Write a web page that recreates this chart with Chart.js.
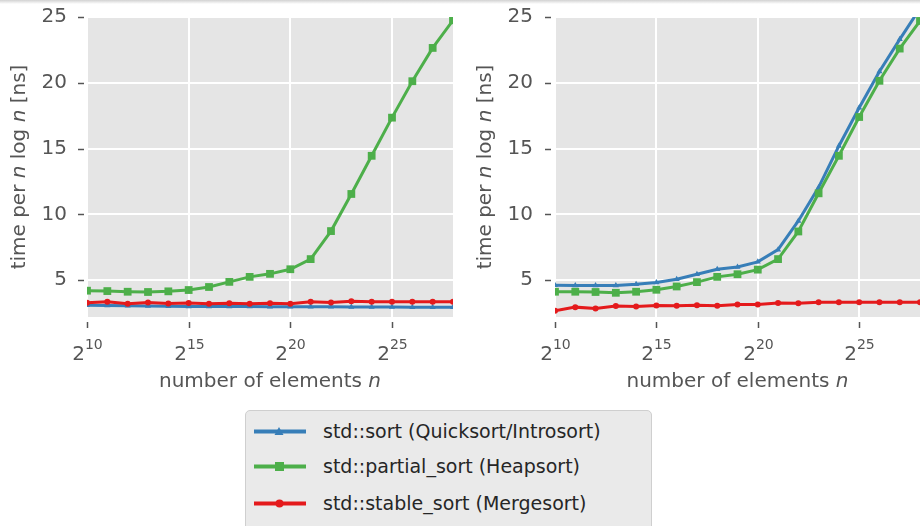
<!DOCTYPE html>
<html>
<head>
<meta charset="utf-8">
<script src="https://cdn.jsdelivr.net/npm/chart.js@4.4.1/dist/chart.umd.min.js"></script>
<style>
  body { margin: 0; background: #fff; }
  #wrap { position: relative; width: 920px; height: 526px; overflow: hidden; background: #fff; font-family: "DejaVu Sans", sans-serif; }
  #wrap:before { content: ""; position: absolute; left: 0; top: 0; width: 100%; height: 4px; background: linear-gradient(#d2d2d2, #fff); z-index: 2; }
  canvas { position: absolute; top: 0; }
  #legend { position: absolute; left: 245px; top: 410px; width: 405px; height: 140px; background: #eaeaea; border: 1px solid #cfcfcf; border-radius: 5px; }
  .row { position: absolute; left: 7px; height: 24px; display: flex; align-items: center; font-size: 19px; color: #262626; white-space: nowrap; }
  .row svg { margin-right: 16px; }
</style>
</head>
<body>
<div id="wrap">
  <canvas id="left" width="460" height="400" style="left:0"></canvas>
  <canvas id="right" width="460" height="400" style="left:460px"></canvas>
  <div id="legend"></div>
</div>
<script>
// exponents k of n = 2^k
const exps = [10, 11, 12, 13, 14, 15, 16, 17, 18, 19, 20, 21, 22, 23, 24, 25, 26, 27, 28];
const xTicks = [10, 15, 20, 25];
const yTicks = [5, 10, 15, 20, 25];

const seriesNames = ['std::sort (Quicksort/Introsort)', 'std::partial_sort (Heapsort)', 'std::stable_sort (Mergesort)'];

// left panel
const sortLeft    = [3.10, 3.08, 3.05, 3.03, 3.02, 3.00, 3.00, 3.00, 2.99, 2.98, 2.98, 2.97, 2.97, 2.96, 2.96, 2.96, 2.95, 2.95, 2.95];
const partialLeft = [4.20, 4.17, 4.12, 4.10, 4.15, 4.25, 4.48, 4.87, 5.25, 5.48, 5.83, 6.60, 8.73, 11.55, 14.45, 17.35, 20.12, 22.65, 24.75];
const stableLeft  = [3.28, 3.36, 3.20, 3.30, 3.22, 3.27, 3.20, 3.25, 3.20, 3.25, 3.20, 3.35, 3.30, 3.40, 3.36, 3.36, 3.35, 3.35, 3.35];

// right panel
const sortRight    = [4.62, 4.60, 4.60, 4.60, 4.68, 4.82, 5.07, 5.45, 5.83, 6.00, 6.39, 7.32, 9.50, 12.05, 15.20, 18.10, 20.86, 23.30, 25.65];
const partialRight = [4.12, 4.12, 4.10, 4.04, 4.12, 4.27, 4.52, 4.85, 5.25, 5.45, 5.80, 6.60, 8.70, 11.60, 14.45, 17.40, 20.15, 22.60, 24.70];
const stableRight  = [2.68, 2.95, 2.85, 3.03, 3.00, 3.08, 3.05, 3.10, 3.05, 3.15, 3.15, 3.26, 3.25, 3.33, 3.33, 3.33, 3.33, 3.33, 3.33];

const COLORS = { azul: '#377eb8', verde: '#4daf4a', rojo: '#e41a1c', texto: '#555555' };
const FONT = '"DejaVu Sans"';

// texto con partes en cursiva (n)
function richText(ctx, parts, size) {
    let w = 0;
    parts.forEach(p => { ctx.font = (p.i ? 'italic ' : '') + size + 'px ' + FONT; p.w = ctx.measureText(p.t).width; w += p.w; });
    let x = -w / 2;
    parts.forEach(p => { ctx.font = (p.i ? 'italic ' : '') + size + 'px ' + FONT; ctx.fillText(p.t, x, 0); x += p.w; });
}

const decor = {
    id: 'decor',
    beforeDraw(chart) {
        const { ctx, chartArea: a } = chart;
        ctx.save();
        ctx.fillStyle = '#e5e5e5';
        ctx.fillRect(a.left, a.top, a.right - a.left, a.bottom - a.top);
        ctx.restore();
    },
    afterDraw(chart, args, opts) {
        const { ctx, chartArea: a, scales: { x, y } } = chart;
        ctx.save();
        ctx.strokeStyle = COLORS.texto; ctx.fillStyle = COLORS.texto; ctx.lineWidth = 1.5;
        yTicks.forEach(v => {
            const py = Math.round(y.getPixelForValue(v)) + 0.5;
            ctx.beginPath(); ctx.moveTo(a.left - opts.gap - 6, py); ctx.lineTo(a.left - opts.gap, py); ctx.stroke();
        });
        ctx.textBaseline = 'alphabetic'; ctx.textAlign = 'left';
        xTicks.forEach(v => {
            const px = Math.round(x.getPixelForValue(v)) + 0.5;
            ctx.beginPath(); ctx.moveTo(px, a.bottom + 5); ctx.lineTo(px, a.bottom + 11); ctx.stroke();
            ctx.font = '20px ' + FONT; const wb = ctx.measureText('2').width;
            ctx.font = '14px ' + FONT; const ws = ctx.measureText(String(v)).width;
            const x0 = px - (wb + ws) / 2;
            ctx.font = '20px ' + FONT; ctx.fillText('2', x0, a.bottom + 43);
            ctx.font = '14px ' + FONT; ctx.fillText(String(v), x0 + wb, a.bottom + 32);
        });
        // titulo eje x
        ctx.save();
        ctx.translate((a.left + a.right) / 2, a.bottom + 70);
        richText(ctx, [{ t: 'number of elements ' }, { t: 'n', i: true }], 20);
        ctx.restore();
        // titulo eje y
        ctx.save();
        ctx.translate(opts.titleX, (a.top + a.bottom) / 2);
        ctx.rotate(-Math.PI / 2);
        ctx.textBaseline = 'middle';
        richText(ctx, [{ t: 'time per ' }, { t: 'n', i: true }, { t: ' log ' }, { t: 'n', i: true }, { t: ' [ns]' }], 20);
        ctx.restore();
        ctx.restore();
    }
};

function sinMargen(sc) {
    sc.paddingTop = 0; sc.paddingBottom = 0; sc.paddingLeft = 0; sc.paddingRight = 0;
}

function serie(label, data, color, style, radius, order) {
    return {
        label, data: exps.map((k, i) => ({ x: k, y: data[i] })),
        borderColor: color, backgroundColor: color, borderWidth: 3,
        pointStyle: style, pointRadius: radius, pointBorderWidth: 0, order
    };
}

function crearGrafico(id, s, g) {
    return new Chart(document.getElementById(id), {
        type: 'line',
        data: {
            datasets: [
                serie(seriesNames[0], s[0], COLORS.azul, 'triangle', 3.5, 2),
                serie(seriesNames[1], s[1], COLORS.verde, 'rect', 5.5, 1),
                serie(seriesNames[2], s[2], COLORS.rojo, 'circle', 3, 0)
            ]
        },
        options: {
            responsive: false, animation: false, events: [],
            layout: { autoPadding: false, padding: { top: 17, right: g.right, left: 0, bottom: 0 } },
            scales: {
                x: {
                    type: 'linear', min: 10, max: 28,
                    afterBuildTicks: sc => { sc.ticks = xTicks.map(v => ({ value: v })); },
                    afterFit: sc => { sc.height = 83; sinMargen(sc); },
                    ticks: { display: false },
                    grid: { color: '#ffffff', lineWidth: 2, drawTicks: false },
                    border: { display: false }
                },
                y: {
                    min: 2.2, max: 25,
                    afterBuildTicks: sc => { sc.ticks = yTicks.map(v => ({ value: v })); },
                    afterFit: sc => { sc.width = g.left; sinMargen(sc); },
                    ticks: { color: COLORS.texto, font: { family: 'DejaVu Sans', size: 20 }, padding: g.pad },
                    grid: { color: '#ffffff', lineWidth: 2, drawTicks: false },
                    border: { display: false }
                }
            },
            plugins: {
                legend: { display: false }, tooltip: { enabled: false },
                decor: { gap: g.gap, titleX: g.titleX }
            }
        },
        plugins: [decor]
    });
}

crearGrafico('left', [sortLeft, partialLeft, stableLeft], { left: 87, right: 7, pad: 20, gap: 3, titleX: 20 });
crearGrafico('right', [sortRight, partialRight, stableRight], { left: 95, right: 0, pad: 22, gap: 4, titleX: 25.5 });

// leyenda
const marcadores = [
    c => `<polygon points="26,5 30.5,13 21.5,13" fill="${c}"/>`,
    c => `<rect x="22" y="5" width="9" height="9" fill="${c}"/>`,
    c => `<circle cx="26.5" cy="9.5" r="4" fill="${c}"/>`
];
const legendColors = [COLORS.azul, COLORS.verde, COLORS.rojo];
const filas = [8, 43, 80];
document.getElementById('legend').innerHTML = seriesNames.map((n, i) => `
    <div class="row" style="top:${filas[i]}px">
      <svg width="54" height="19"><line x1="1" y1="9.5" x2="53" y2="9.5" stroke="${legendColors[i]}" stroke-width="4"/>${marcadores[i](legendColors[i])}</svg>
      <span>${n}</span>
    </div>`).join('');
</script>
</body>
</html>
